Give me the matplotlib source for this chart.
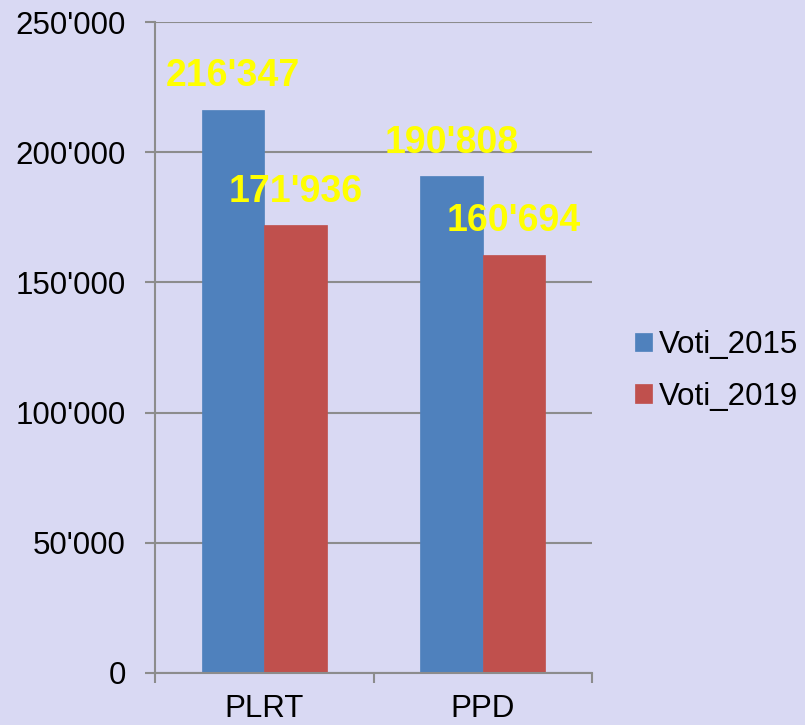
import matplotlib.pyplot as plt
import numpy as np
from matplotlib.ticker import FuncFormatter, FixedLocator

partiti = ["PLRT", "PPD"]
voti_2015 = [216347, 190808]
voti_2019 = [171936, 160694]
serie = ["Voti_2015", "Voti_2019"]
y_ticks = [0, 50000, 100000, 150000, 200000, 250000]

BG = "#D9D9F3"
GRIGIO = "#8C8C8C"
COLORI = ["#4F81BD", "#C0504D"]

plt.rcParams["font.family"] = ["Liberation Sans", "DejaVu Sans"]


def apostrofo(v, pos=None):
    return f"{int(round(v)):,}".replace(",", "'")


fig = plt.figure(figsize=(8.05, 7.25), dpi=100, facecolor=BG)
ax = fig.add_axes([155 / 805, 52 / 725, 437 / 805, 651 / 725], facecolor=BG)

x = np.arange(len(partiti))
w = 0.286
barre = []
for i, (valori, col) in enumerate(zip([voti_2015, voti_2019], COLORI)):
    off = (i - 0.5) * w
    b = ax.bar(x + off, valori, w, color=col, label=serie[i], zorder=2,
               edgecolor=col, linewidth=0.5)
    barre.append(b)
    for xi, v in zip(x + off, valori):
        ax.annotate(apostrofo(v), (xi, v), xytext=(0, 24), textcoords="offset points",
                    ha="center", va="center", color="#FFFF00", fontsize=27,
                    fontweight="bold", zorder=3)

ax.set_xlim(-0.5, len(partiti) - 0.5)
ax.set_ylim(0, 250000)
ax.set_yticks(y_ticks)
ax.yaxis.set_major_formatter(FuncFormatter(apostrofo))
ax.yaxis.grid(True, color=GRIGIO, linewidth=1.5, zorder=0)
ax.set_axisbelow(True)

ax.set_xticks(x)
ax.set_xticklabels(partiti)
ax.xaxis.set_minor_locator(FixedLocator(np.arange(-0.5, len(partiti), 1.0)))
ax.tick_params(axis="x", which="major", length=0, pad=15, labelsize=22.5)
ax.tick_params(axis="x", which="minor", length=7, width=1.5, color=GRIGIO, direction="out")
ax.tick_params(axis="y", length=7, width=1.5, color=GRIGIO, pad=14, labelsize=22.5)

for lato in ["top", "right"]:
    ax.spines[lato].set_visible(False)
for lato in ["left", "bottom"]:
    ax.spines[lato].set_color(GRIGIO)
    ax.spines[lato].set_linewidth(1.5)

fig.legend(handles=barre, labels=serie, loc="center left",
           bbox_to_anchor=(635 / 805, 1 - 371 / 725), frameon=False,
           fontsize=22.5, handlelength=0.55, handleheight=0.55,
           handletextpad=0.2, labelspacing=0.7, borderpad=0, borderaxespad=0)

fig.savefig("out.png", dpi=100, facecolor=BG)
